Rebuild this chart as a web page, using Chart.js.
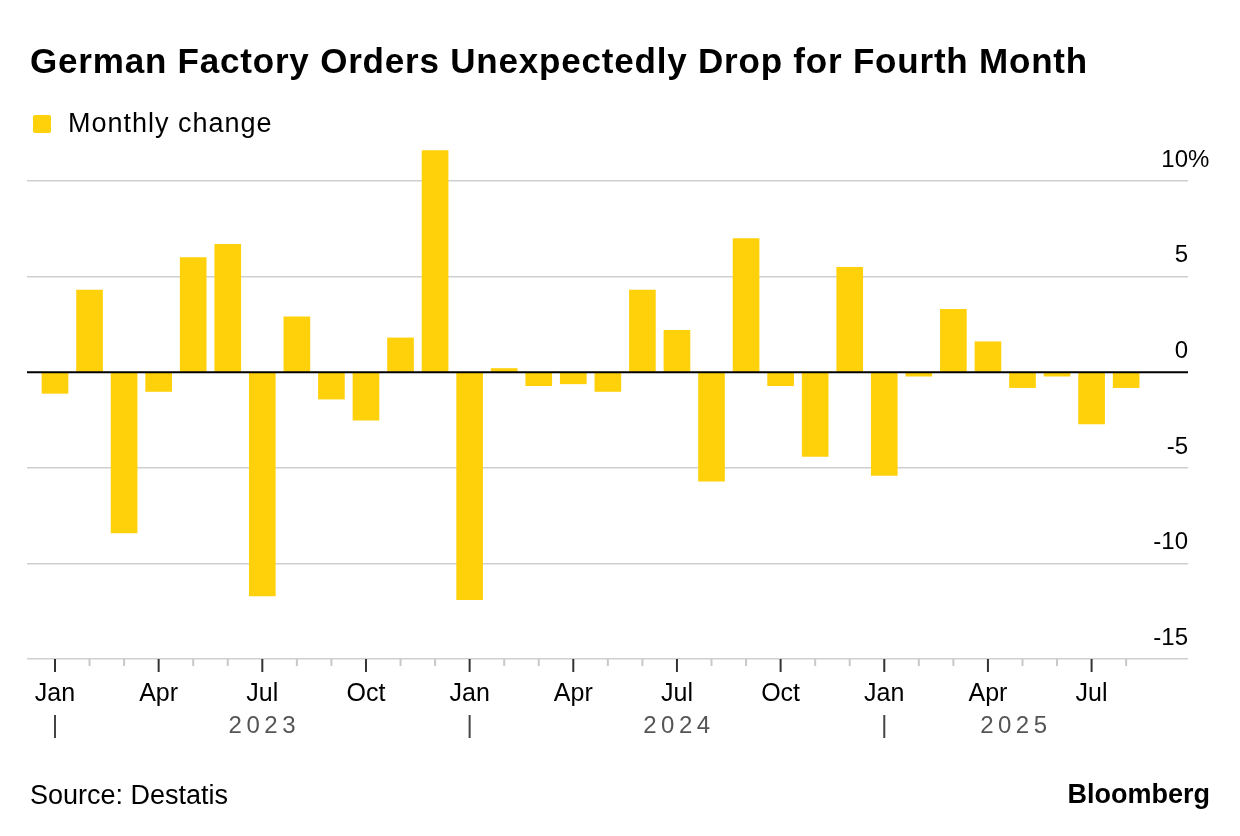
<!DOCTYPE html>
<html>
<head>
<meta charset="utf-8">
<title>German Factory Orders</title>
<script src="https://cdn.jsdelivr.net/npm/chart.js@4.4.1/dist/chart.umd.min.js"></script>
<style>
  html, body { margin: 0; padding: 0; background: #fff; }
  body {
    width: 1240px; height: 836px; position: relative; overflow: hidden;
    font-family: "Liberation Sans", Arial, sans-serif; color: #000;
  }
  #wrap { position: absolute; left: 0; top: 0; width: 1240px; height: 836px; }
  .title { position: absolute; left: 30px; top: 41px; font-size: 35px; letter-spacing: 0.8px; font-weight: bold; line-height: 40px; white-space: nowrap; }
  .legend { position: absolute; left: 33px; top: 107px; font-size: 27px; letter-spacing: 1px; line-height: 32px; white-space: nowrap; }
  .legend i { display: inline-block; width: 18px; height: 18px; background: #ffd10a; border-radius: 2px; margin-right: 17px; vertical-align: -1px; }
  .source { position: absolute; left: 30px; top: 779px; font-size: 27px; line-height: 32px; }
  .brand { position: absolute; right: 30px; top: 778px; font-size: 27px; font-weight: bold; line-height: 32px; }
</style>
</head>
<body>
<div id="wrap"><canvas id="ordersChart"></canvas></div>
<div class="title">German Factory Orders Unexpectedly Drop for Fourth Month</div>
<div class="legend"><i></i>Monthly change</div>
<div class="source">Source: Destatis</div>
<div class="brand">Bloomberg</div>
<script>
const years = [2023, 2024, 2025];
const monthNames = ["Jan", "Feb", "Mar", "Apr", "May", "Jun", "Jul", "Aug", "Sep", "Oct", "Nov", "Dec"];
const tickMonths = ["Jan", "Apr", "Jul", "Oct"];

// month-on-month change in German factory orders, %
const monthlyChange = [
  -1.1, 4.3, -8.4, -1.0, 6.0, 6.7, -11.7, 2.9, -1.4, -2.5, 1.8, 11.6, // 2023
  -11.9, 0.2, -0.7, -0.6, -1.0, 4.3, 2.2, -5.7, 7.0, -0.7, -4.4, 5.5, // 2024
  -5.4, -0.2, 3.3, 1.6, -0.8, -0.2, -2.7, -0.8 // 2025 (to Aug)
];

const yTicks = [-15, -10, -5, 0, 5, 10];

const periods = [];
years.forEach((yr) => monthNames.forEach((m) => periods.push({ year: yr, month: m })));
periods.length = monthlyChange.length;

const FONT = "'Liberation Sans', Arial, sans-serif";

const axisDecor = {
  id: "axisDecor",
  afterDatasetsDraw(chart) {
    const { ctx, chartArea, scales } = chart;
    const x = scales.x, y = scales.y;
    ctx.save();

    // zero line on top of the bars
    const y0 = y.getPixelForValue(0);
    ctx.strokeStyle = "#000";
    ctx.lineWidth = 2;
    ctx.beginPath();
    ctx.moveTo(chartArea.left, y0);
    ctx.lineTo(chartArea.right, y0);
    ctx.stroke();

    // value labels sit above their grid lines
    ctx.font = "24px " + FONT;
    ctx.fillStyle = "#000";
    ctx.textBaseline = "middle";
    const top = Math.max(...yTicks);
    yTicks.forEach((v) => {
      const py = y.getPixelForValue(v) - 21;
      ctx.textAlign = "right";
      ctx.fillText(String(v), chartArea.right, py);
      if (v === top) {
        ctx.textAlign = "left";
        ctx.fillText("%", chartArea.right, py);
      }
    });

    // month tick marks
    periods.forEach((p, i) => {
      const px = x.getPixelForValue(i);
      const major = tickMonths.includes(p.month);
      ctx.strokeStyle = major ? "#333" : "#c8c8c8";
      ctx.lineWidth = 2;
      ctx.beginPath();
      ctx.moveTo(px, chartArea.bottom);
      ctx.lineTo(px, chartArea.bottom + (major ? 13 : 7));
      ctx.stroke();
    });

    // year row
    ctx.font = "24px " + FONT;
    ctx.fillStyle = "#555";
    ctx.textAlign = "center";
    ctx.letterSpacing = "4.5px";
    years.forEach((yr) => {
      const start = periods.findIndex((p) => p.year === yr);
      if (start < 0) return;
      const end = Math.min(start + 12, periods.length - 0.5);
      const sx = x.getPixelForValue(start);
      ctx.strokeStyle = "#444";
      ctx.lineWidth = 2;
      ctx.beginPath();
      ctx.moveTo(sx, chartArea.bottom + 56);
      ctx.lineTo(sx, chartArea.bottom + 79);
      ctx.stroke();
      ctx.fillText(String(yr), x.getPixelForValue((start + end) / 2) + 2, chartArea.bottom + 67);
    });

    ctx.restore();
  }
};

const ctx = document.getElementById("ordersChart").getContext("2d");
new Chart(ctx, {
  type: "bar",
  data: {
    datasets: [
      {
        label: "Monthly change",
        data: monthlyChange.map((v, i) => ({ x: i, y: v })),
        backgroundColor: "#ffd10a",
        borderWidth: 0,
        barThickness: 26,
      },
    ],
  },
  options: {
    responsive: true,
    maintainAspectRatio: false,
    animation: false,
    layout: { padding: { top: 143, left: 27, right: 52, bottom: 0 } },
    plugins: { legend: { display: false }, tooltip: { enabled: false } },
    scales: {
      x: {
        type: "linear",
        offset: false,
        min: -0.81,
        max: 32.79,
        afterBuildTicks: (s) => { s.ticks = periods.map((p, i) => ({ value: i })); },
        afterFit: (s) => { s.height = 177; },
        grid: { drawOnChartArea: false, drawTicks: false, offset: false },
        border: { display: false },
        ticks: {
          autoSkip: false,
          maxRotation: 0,
          padding: 20,
          color: "#000",
          font: { family: FONT, size: 25 },
          callback: (v) => {
            const p = periods[v];
            return p && tickMonths.includes(p.month) ? p.month : "";
          },
        },
      },
      y: {
        min: -15,
        max: 12,
        afterBuildTicks: (s) => { s.ticks = yTicks.map((v) => ({ value: v })); },
        afterFit: (s) => { s.width = 0; },
        grid: {
          drawTicks: false,
          lineWidth: 1.5,
          color: (c) => (c.tick && c.tick.value === 0 ? "rgba(0,0,0,0)" : "#cfcfcf"),
        },
        border: { display: false },
        ticks: { display: false },
      },
    },
  },
  plugins: [axisDecor],
});
</script>
</body>
</html>
